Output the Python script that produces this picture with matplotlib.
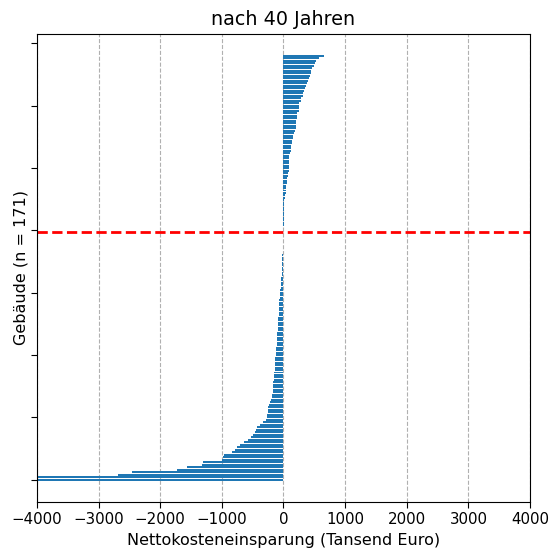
import numpy as np
import matplotlib
matplotlib.use("Agg")
import matplotlib.pyplot as plt

# --- Data (Tausend Euro), sorted ascending, one value per building ---
negative_savings = [
    -5200, -4400, -2680, -2450, -1720, -1560, -1330, -1300, -1000, -980,
    -960, -830, -780, -760, -700, -640, -570, -530, -490, -470,
    -440, -430, -380, -330, -290, -270, -260, -255, -250, -245,
    -240, -220, -200, -190, -180, -175, -170, -168, -165, -163,
    -162, -160, -155, -150, -145, -140, -138, -135, -132, -130,
    -125, -120, -118, -115, -112, -110, -105, -102, -100, -98,
    -95, -92, -90, -88, -85, -82, -80, -78, -75, -72,
    -70, -68, -65, -60, -58, -55, -50, -45, -42, -38,
    -35, -33, -31, -30, -28, -26, -25, -23, -21, -20,
    -18, -15, -12, -10, -8, -6, -5, -3, -2, -1,
]
positive_savings = [
    0, 0, 1, 2, 3, 4, 5, 6, 8, 10,
    12, 14, 15, 20, 28, 35, 38, 40, 45, 50,
    55, 60, 75, 80, 82, 85, 88, 90, 90, 92,
    95, 100, 115, 120, 125, 135, 140, 150, 160, 170,
    185, 200, 200, 205, 210, 215, 220, 225, 245, 250,
    250, 255, 280, 290, 310, 320, 330, 350, 360, 380,
    390, 410, 430, 440, 450, 470, 490, 510, 530, 570,
    650,
]
savings = negative_savings + positive_savings
n_buildings = len(savings)
n_negative = len(negative_savings)

x_ticks = [-4000, -3000, -2000, -1000, 0, 1000, 2000, 3000, 4000]
y_ticks = [0, 25, 50, 75, 100, 125, 150, 175]

fig = plt.figure(figsize=(5.51, 5.55), dpi=100)
ax = fig.add_axes([0.067, 0.0955, 0.895, 0.844])

ax.barh(np.arange(n_buildings), savings, color="#1f77b4")
# boundary between last negative and first non-negative building
ax.axhline(n_negative - 0.5, color="red", linestyle="--", linewidth=2)

ax.set_xlim(-4000, 4000)
ax.set_xticks(x_ticks)
ax.set_yticks(y_ticks)
ax.set_yticklabels([])
ax.tick_params(labelsize=10.8, length=4)
ax.grid(True, axis="x", linestyle="--")
ax.set_axisbelow(True)

ax.set_title("nach 40 Jahren", fontsize=13.8)
ax.set_xlabel("Nettokosteneinsparung (Tansend Euro)", fontsize=11.5)
ax.set_ylabel(f"Gebäude (n = {n_buildings})", fontsize=11.5, labelpad=-1.5)

fig.savefig("out.png", dpi=100)
